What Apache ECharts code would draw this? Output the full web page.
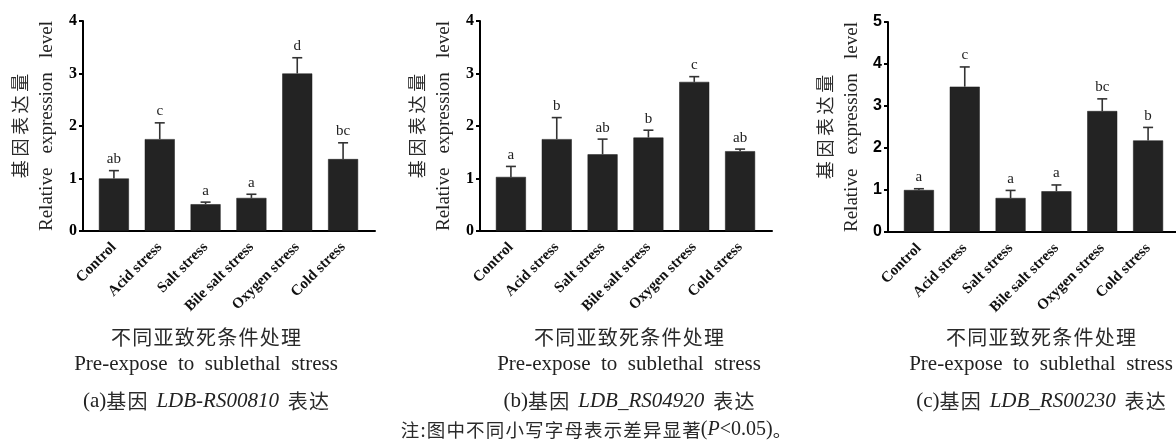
<!DOCTYPE html>
<html>
<head>
<meta charset="utf-8">
<script src="https://cdn.jsdelivr.net/npm/echarts@6/dist/echarts.min.js"></script>
<style>
  html, body { margin: 0; padding: 0; background: #fff; }
  #chart { width: 1176px; height: 440px; }
</style>
</head>
<body>
<div id="chart"></div>
<script>
// Treatment groups on the x axis
const categories = ['Control', 'Acid stress', 'Salt stress', 'Bile salt stress', 'Oxygen stress', 'Cold stress'];

// (a) LDB-RS00810 relative expression: mean, SD, significance letters
const meanA = [1.00, 1.75, 0.51, 0.63, 3.00, 1.37];
const sdA   = [0.15, 0.31, 0.04, 0.07, 0.30, 0.31];
const letA  = ['ab', 'c', 'a', 'a', 'd', 'bc'];

// (b) LDB_RS04920
const meanB = [1.03, 1.75, 1.46, 1.78, 2.84, 1.52];
const sdB   = [0.20, 0.41, 0.29, 0.14, 0.10, 0.04];
const letB  = ['a', 'b', 'ab', 'b', 'c', 'ab'];

// (c) LDB_RS00230
const meanC = [1.00, 3.46, 0.81, 0.97, 2.88, 2.18];
const sdC   = [0.03, 0.47, 0.18, 0.15, 0.29, 0.31];
const letC  = ['a', 'c', 'a', 'a', 'bc', 'b'];

// y axis ranges
const yMaxA = 4, yMaxB = 4, yMaxC = 5;

const SERIF = '"Liberation Serif", "Times New Roman", serif';
const SANS = '"Liberation Sans", Arial, sans-serif';
const CJK = '"Noto Sans CJK SC", sans-serif';
const HS = '\u200A'; // hair space to open up CJK runs a little
const TS = '\u2009'; // thin space for the wider-set axis title

const spaced = (s, sep = HS) => Array.from(s).join(sep);

const panels = [
  { mean: meanA, sd: sdA, lets: letA, yMax: yMaxA, axisX: 83,  top: 21, tickFont: SERIF,
    textX: 201, caption: '{s|(a)}' + spaced('基因') + '  {i|LDB-RS00810}  ' + spaced('表达') },
  { mean: meanB, sd: sdB, lets: letB, yMax: yMaxB, axisX: 480, top: 21, tickFont: SERIF,
    textX: 624, caption: '{s|(b)}' + spaced('基因') + '  {i|LDB_RS04920}  ' + spaced('表达') },
  { mean: meanC, sd: sdC, lets: letC, yMax: yMaxC, axisX: 888, top: 22, tickFont: SANS,
    textX: 1036, caption: '{s|(c)}' + spaced('基因') + '  {i|LDB_RS00230}  ' + spaced('表达') }
];

const PLOT_H = 210;      // height of each plotting area
const FRAME_W = 292;     // length of the x axis line
const BAR_PAD = 8;       // space between the y axis and the first category slot
const BAR_AREA_W = 275;  // width taken by the six category slots

const grid = [], xAxis = [], yAxis = [], series = [], title = [];

panels.forEach((p, k) => {
  const frameIdx = k * 2, barIdx = k * 2 + 1;

  // frame grid: holds the visible axis lines and y ticks
  grid.push({ left: p.axisX, top: p.top, width: FRAME_W, height: PLOT_H, containLabel: false });
  // bar grid: inset slightly so bars sit away from the y axis
  grid.push({ left: p.axisX + BAR_PAD, top: p.top, width: BAR_AREA_W, height: PLOT_H, containLabel: false });

  xAxis.push({
    gridIndex: frameIdx, type: 'value', min: 0, max: 1,
    axisLine: { show: true, onZero: false, lineStyle: { color: '#000', width: 2 } },
    axisTick: { show: false }, axisLabel: { show: false }, splitLine: { show: false }
  });
  xAxis.push({
    gridIndex: barIdx, type: 'category', data: categories,
    axisLine: { show: false }, axisTick: { show: false }, splitLine: { show: false },
    axisLabel: {
      rotate: 45, margin: 14, interval: 0,
      fontFamily: SERIF, fontWeight: 'bold', fontSize: 15, color: '#111'
    }
  });

  yAxis.push({
    gridIndex: frameIdx, type: 'value', min: 0, max: p.yMax, interval: 1,
    axisLine: { show: true, onZero: false, lineStyle: { color: '#000', width: 2 } },
    axisTick: { show: true, inside: false, length: 4, lineStyle: { color: '#000', width: 2 } },
    axisLabel: { margin: 6, fontFamily: p.tickFont, fontWeight: 'bold', fontSize: 16, color: '#000' },
    splitLine: { show: false },
    name: '{cn|' + spaced('基因表达量', TS) + '}\n{en|Relative   expression   level}',
    nameLocation: 'middle', nameRotate: 90, nameGap: 22, nameMoveOverlap: false,
    nameTextStyle: {
      color: '#222',
      rich: {
        cn: { fontFamily: CJK, fontSize: 18, lineHeight: 27, color: '#2a2a2a' },
        en: { fontFamily: SERIF, fontSize: 19, lineHeight: 27, color: '#222' }
      }
    }
  });
  yAxis.push({
    gridIndex: barIdx, type: 'value', min: 0, max: p.yMax, interval: 1, show: false
  });

  series.push({
    type: 'bar', xAxisIndex: barIdx, yAxisIndex: barIdx,
    data: p.mean, barWidth: 30,
    itemStyle: { color: '#232323', borderColor: '#1a1a1a', borderWidth: 0.5 },
    silent: true, z: 2
  });

  // upper error whisker with cap, and the significance letter above it
  const errData = p.mean.map((m, i) => [i, m, m + p.sd[i]]);
  series.push({
    type: 'custom', xAxisIndex: barIdx, yAxisIndex: barIdx,
    data: errData, silent: true, z: 3, clip: false,
    renderItem: (params, api) => {
      const i = api.value(0);
      const base = api.coord([i, api.value(1)]);
      const tip = api.coord([i, api.value(2)]);
      const capHalf = 5;
      const stroke = { stroke: '#333', lineWidth: 1.6 };
      return {
        type: 'group',
        children: [
          { type: 'line', shape: { x1: tip[0], y1: base[1], x2: tip[0], y2: tip[1] }, style: stroke },
          { type: 'line', shape: { x1: tip[0] - capHalf, y1: tip[1], x2: tip[0] + capHalf, y2: tip[1] }, style: stroke },
          { type: 'text', x: tip[0], y: tip[1] - 4,
            style: { text: p.lets[params.dataIndex], fill: '#222',
                     font: '15px ' + SERIF, align: 'center', verticalAlign: 'bottom' } }
        ]
      };
    }
  });

  // axis title and panel caption below each chart
  title.push({
    text: spaced('不同亚致死条件处理'), left: p.textX, top: 322, textAlign: 'center',
    textStyle: { fontFamily: CJK, fontSize: 20, fontWeight: 'normal', color: '#2a2a2a' }
  });
  title.push({
    text: 'Pre-expose  to  sublethal  stress', left: p.textX, top: 349, textAlign: 'center',
    textStyle: { fontFamily: SERIF, fontSize: 21, fontWeight: 'normal', color: '#222' }
  });
  title.push({
    text: p.caption, left: p.textX, top: 386, textAlign: 'center',
    textStyle: {
      fontFamily: CJK, fontSize: 20, fontWeight: 'normal', color: '#2a2a2a',
      rich: {
        s: { fontFamily: SERIF, fontSize: 21, color: '#222' },
        i: { fontFamily: SERIF, fontStyle: 'italic', fontSize: 21, color: '#222' }
      }
    }
  });
});

title.push({
  text: spaced('注:图中不同小写字母表示差异显著') + '{s|(}{i|P}{s|<0.05)}。', left: 591, top: 415, textAlign: 'center',
  textStyle: {
    fontFamily: CJK, fontSize: 18.5, fontWeight: 'normal', color: '#2a2a2a',
    rich: {
      s: { fontFamily: SERIF, fontSize: 20, color: '#222' },
      i: { fontFamily: SERIF, fontStyle: 'italic', fontSize: 20, color: '#222' }
    }
  }
});

const chart = echarts.init(document.getElementById('chart'));
chart.setOption({
  backgroundColor: '#fff',
  animation: false,
  title, grid, xAxis, yAxis, series
});
</script>
</body>
</html>
